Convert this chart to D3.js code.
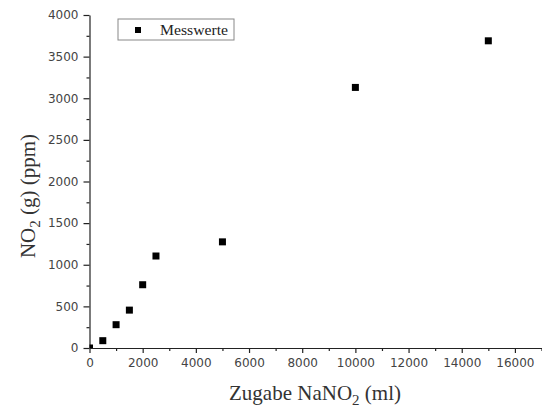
<!DOCTYPE html>
<html>
<head>
<meta charset="utf-8">
<script src="https://cdn.jsdelivr.net/npm/d3@7"></script>
<style>
  html, body { margin: 0; padding: 0; background: #fff; }
  svg { display: block; }
  .tick text { font-family: "DejaVu Sans", sans-serif; font-size: 12px; fill: #444; }
  .domain, .tick line { stroke: #222; stroke-width: 1.2; }
</style>
</head>
<body>
<svg id="chart" width="542" height="408"></svg>
<script>
// Zugabe NaNO2 (ml) and measured NO2 (g) concentration (ppm)
const additionMl = [0, 500, 1000, 1500, 2000, 2500, 5000, 10000, 15000];
const no2Ppm     = [0, 88, 280, 455, 760, 1105, 1275, 3130, 3690];
const xTicks = [0, 2000, 4000, 6000, 8000, 10000, 12000, 14000, 16000];
const yTicks = [0, 500, 1000, 1500, 2000, 2500, 3000, 3500, 4000];
const legendLabel = "Messwerte";

const svg = d3.select("#chart");
const x = d3.scaleLinear().domain([0, 17000]).range([89.5, 541.5]);
const y = d3.scaleLinear().domain([0, 4000]).range([348, 15]);

// minor ticks
const xMinor = d3.range(1000, 17001, 2000);
const yMinor = d3.range(250, 4000, 500);

svg.append("g")
  .attr("transform", `translate(0,${y(0)})`)
  .call(d3.axisBottom(x).tickValues(xMinor).tickSize(3).tickFormat(""))
  .call(g => g.select(".domain").remove());
svg.append("g")
  .attr("transform", `translate(${x(0)},0)`)
  .call(d3.axisLeft(y).tickValues(yMinor).tickSize(3).tickFormat(""))
  .call(g => g.select(".domain").remove());

svg.append("g")
  .attr("transform", `translate(0,${y(0)})`)
  .call(d3.axisBottom(x).tickValues(xTicks).tickSize(5).tickSizeOuter(0).tickPadding(5).tickFormat(d3.format("d")));
svg.append("g")
  .attr("transform", `translate(${x(0)},0)`)
  .call(d3.axisLeft(y).tickValues(yTicks).tickSize(6).tickSizeOuter(0).tickPadding(5).tickFormat(d3.format("d")));

// clip markers to the plot area
svg.append("clipPath").attr("id", "plot-clip")
  .append("rect")
  .attr("x", x(0)).attr("y", y(4000) - 10)
  .attr("width", x(17000) - x(0)).attr("height", y(0) - y(4000) + 10);

const ms = 7;
svg.append("g").attr("clip-path", "url(#plot-clip)")
  .selectAll("rect")
  .data(additionMl.map((v, i) => [v, no2Ppm[i]]))
  .join("rect")
  .attr("x", d => x(d[0]) - ms / 2)
  .attr("y", d => y(d[1]) - ms / 2)
  .attr("width", ms).attr("height", ms)
  .attr("fill", "#000");

// legend
const lg = svg.append("g");
lg.append("rect")
  .attr("x", 118).attr("y", 19).attr("width", 116).attr("height", 21)
  .attr("fill", "#fff").attr("stroke", "#888").attr("stroke-width", 1);
lg.append("rect")
  .attr("x", 138 - 3).attr("y", 30 - 3).attr("width", 6).attr("height", 6)
  .attr("fill", "#000");
lg.append("text")
  .attr("x", 160).attr("y", 35)
  .attr("font-family", "'Liberation Serif', 'Times New Roman', serif")
  .attr("font-size", 14)
  .attr("textLength", 68).attr("lengthAdjust", "spacingAndGlyphs")
  .attr("fill", "#222")
  .text(legendLabel);

// axis titles
const xt = svg.append("text")
  .attr("x", 315).attr("y", 400)
  .attr("text-anchor", "middle")
  .attr("font-family", "'Liberation Serif', 'Times New Roman', serif")
  .attr("font-size", 21).attr("fill", "#333");
xt.append("tspan").text("Zugabe NaNO");
xt.append("tspan").attr("font-size", 15).attr("dy", 5).text("2");
xt.append("tspan").attr("dy", -5).text(" (ml)");

const yt = svg.append("text")
  .attr("transform", "translate(35,196) rotate(-90)")
  .attr("text-anchor", "middle")
  .attr("font-family", "'Liberation Serif', 'Times New Roman', serif")
  .attr("font-size", 21).attr("fill", "#333");
yt.append("tspan").text("NO");
yt.append("tspan").attr("font-size", 15).attr("dy", 5).text("2");
yt.append("tspan").attr("dy", -5).text(" (g) (ppm)");
</script>
</body>
</html>
